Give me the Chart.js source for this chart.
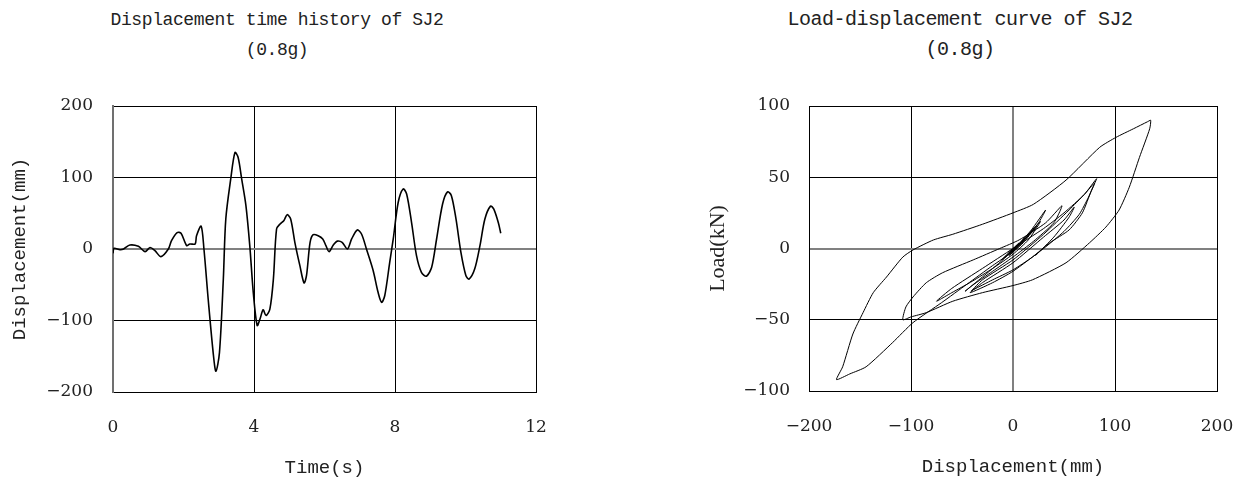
<!DOCTYPE html>
<html>
<head>
<meta charset="utf-8">
<script src="https://cdn.jsdelivr.net/npm/chart.js@4/dist/chart.umd.min.js"></script>
<style>
  html, body { margin: 0; padding: 0; background: #fff; }
  body { width: 1246px; height: 481px; position: relative; overflow: hidden; }
  .ttl { position: absolute; top: 5px; width: 500px; text-align: center; line-height: 30px;
         font-family: 'Liberation Mono', monospace; color: #222; white-space: pre; }
  canvas { position: absolute; top: 0; }
</style>
</head>
<body>
<div class="ttl" id="t1" style="left:27px; font-size:18px; letter-spacing:-0.4px;">Displacement time history of SJ2<br>(0.8g)</div>
<div class="ttl" id="t2" style="left:710px; font-size:20px; letter-spacing:-0.5px;">Load-displacement curve of SJ2<br>(0.8g)</div>
<canvas id="c1" width="560" height="481" style="left:0px;"></canvas>
<canvas id="c2" width="626" height="481" style="left:620px;"></canvas>
<script>
// ---- Left chart: displacement time history ----
const timeS = [0, 0.03, 0.2, 0.3, 0.48, 0.72, 0.91, 1.05, 1.19, 1.36, 1.57, 1.66, 1.82, 1.93, 2.09, 2.18, 2.33, 2.37, 2.50,
  2.58, 2.70, 2.85, 2.92, 3.02, 3.13, 3.20, 3.34, 3.46, 3.55, 3.65, 3.77, 3.88, 3.98, 4.09, 4.17, 4.26, 4.34, 4.45,
  4.55, 4.64, 4.74, 4.85, 4.94, 5.04, 5.16, 5.30, 5.42, 5.49, 5.59, 5.68, 5.82, 5.95, 6.04, 6.13, 6.25, 6.36, 6.50,
  6.65, 6.77, 6.93, 7.05, 7.19, 7.38, 7.52, 7.62, 7.71, 7.85, 7.95, 8.09, 8.23, 8.33, 8.47, 8.61, 8.75, 8.89, 9.04,
  9.18, 9.35, 9.49, 9.60, 9.73, 9.87, 10.01, 10.10, 10.26, 10.41, 10.55, 10.71, 10.80, 10.93, 11.0];
const displacementMm = [-6, 1, -1, 0, 5.6, 3.7, -3.7, 2, -2.3, -10.7, 0, 11.7, 23, 22, 4.7, 7, 7, 18.6, 32,
  0, -70, -149, -171, -145, -42, 42, 98, 135, 128, 98, 61, 4.7, -61, -107, -98, -85, -93, -84,
  -42, 28, 35, 40, 48, 42, 9, -23, -47.5, -37, 9, 20, 18.6, 14, 4.7, -3.7, 5.6, 11, 9.3,
  0, 14, 26.6, 21, 0, -30, -60.6, -74.6, -65, -18.6, 14, 65, 84, 77, 37, -9.3, -32.6, -38, -25.6,
  14, 63, 80, 74.6, 42, -4.7, -37, -42, -28, 4.7, 42, 60, 56, 37, 22];
const timeTicks = ['0', '4', '8', '12'];
const dispTicks = ['\u2212200', '\u2212100', '0', '100', '200'];

// ---- Right chart: load-displacement hysteresis ----
const hystDispMm = [0, 3, 6, 2, -4, 2, -3, -11, -5, 0, 12, 23, 22, 5, 7, 18, 32,
  25, 10, 0, -20, -45, -70, -98, -118, -144, -160, -173,
  -167, -157, -147, -137, -124, -108, -98, -78, -59, -30, 0, 20, 52, 85, 101, 118, 132, 135,
  134, 124, 114, 104, 91, 75, 52, 19, 0, -30, -59, -85, -100, -108,
  -105, -98, -85, -69, -39, -13, 6, 32, 48,
  40, 20, 0, -20, -40, -47,
  -30, -10, 10, 20, 10, -4, 5, 11, 3, 0, 10, 27,
  15, 0, -20, -40, -60, -75,
  -60, -30, 0, 30, 50, 70, 82,
  77, 68, 55, 36, 19, 0, -20, -39, -41,
  -30, 0, 30, 55, 70, 80,
  74, 65, 50, 30, 0, -20, -42,
  -30, 0, 30, 50, 60,
  55, 40, 22];
const hystLoadKN = [0, 2, 4, 1, -3, 1, -2, -8, -4, -1, 8, 16, 14, 2, 4, 13, 27,
  18, 5, -2, -12, -25, -38, -52, -66, -83, -88, -92,
  -83, -60, -45, -31, -20, -6, -1, 6, 10, 17, 25, 31, 48, 71, 78, 84, 89, 90,
  84, 64, 43, 27, 15, 4, -10, -22, -26, -31, -37, -45, -48, -50,
  -41, -34, -24, -17, -8, 0, 6, 18, 30,
  18, 5, -6, -16, -26, -30,
  -20, -8, 6, 13, 4, -5, 2, 7, 0, -2, 5, 19,
  6, -4, -14, -23, -31, -37,
  -28, -14, 0, 14, 25, 38, 49,
  41, 25, 13, 4, -6, -15, -22, -29, -30,
  -22, -8, 10, 27, 38, 46,
  36, 24, 12, 0, -16, -24, -31,
  -24, -10, 8, 20, 29,
  22, 8, -5];
const hystXTicks = ['\u2212200', '\u2212100', '0', '100', '200'];
const hystYTicks = ['\u2212100', '\u221250', '0', '50', '100'];

const monoFont = "'Liberation Mono', monospace";
const tickFont = { family: "'DejaVu Serif', serif", size: 17, lineHeight: 1 };

function gridColor(ctx) { return ctx.tick && ctx.tick.value === 0 ? '#808080' : '#000000'; }
function gridWidth(ctx) { return ctx.tick && ctx.tick.value === 0 ? 2 : 1; }

// Left chart
new Chart(document.getElementById('c1'), {
  type: 'scatter',
  data: {
    datasets: [{
      data: timeS.map((t, i) => ({ x: t, y: displacementMm[i] })),
      showLine: true, borderColor: '#000', borderWidth: 1.6, pointRadius: 0, tension: 0.3, fill: false
    }]
  },
  options: {
    responsive: false, animation: false, devicePixelRatio: 1,
    layout: { padding: { top: 106, right: 24, left: 0, bottom: 0 } },
    plugins: { legend: { display: false }, tooltip: { enabled: false } },
    scales: {
      x: {
        type: 'linear', min: 0, max: 12,
        afterFit: s => { s.height = 89; },
        ticks: { stepSize: 4, color: '#222', font: tickFont, padding: 0, maxRotation: 0,
                 callback: (v, i) => timeTicks[i] },
        grid: { color: gridColor, lineWidth: gridWidth, drawTicks: true, tickLength: 27, tickColor: 'rgba(0,0,0,0)' },
        border: { display: true, color: '#000', width: 1 },
        title: { display: true, text: 'Time(s)', color: '#222',
                 font: { family: monoFont, size: 19, lineHeight: 1 }, padding: { top: 0, bottom: 3.5 } }
      },
      y: {
        type: 'linear', min: -200, max: 200,
        afterFit: s => { s.width = 113; },
        ticks: { stepSize: 100, color: '#222', font: tickFont, padding: 20,
                 callback: (v, i) => dispTicks[i] },
        grid: { color: gridColor, lineWidth: gridWidth, drawTicks: false },
        border: { display: true, color: '#707070', width: 2 },
        title: { display: true, text: 'Displacement(mm)', color: '#222',
                 font: { family: monoFont, size: 19, lineHeight: 1 }, padding: { top: 10.5, bottom: 0 } }
      }
    }
  }
});

// Right chart
new Chart(document.getElementById('c2'), {
  type: 'scatter',
  data: {
    datasets: [{
      data: hystDispMm.map((d, i) => ({ x: d, y: hystLoadKN[i] })),
      showLine: true, borderColor: '#000', borderWidth: 1, pointRadius: 0, tension: 0.2, fill: false
    }]
  },
  options: {
    responsive: false, animation: false, devicePixelRatio: 1,
    layout: { padding: { top: 106, right: 29, left: 0, bottom: 0 } },
    plugins: { legend: { display: false }, tooltip: { enabled: false } },
    scales: {
      x: {
        type: 'linear', min: -200, max: 200,
        afterFit: s => { s.height = 90; },
        ticks: { stepSize: 100, color: '#222', font: tickFont, padding: 0, maxRotation: 0,
                 callback: (v, i) => hystXTicks[i] },
        grid: { color: gridColor, lineWidth: gridWidth, drawTicks: true, tickLength: 27, tickColor: 'rgba(0,0,0,0)' },
        border: { display: true, color: '#000', width: 1 },
        title: { display: true, text: 'Displacement(mm)', color: '#222',
                 font: { family: monoFont, size: 19, lineHeight: 1 }, padding: { top: 0, bottom: 4.5 } }
      },
      y: {
        type: 'linear', min: -100, max: 100,
        afterFit: s => { s.width = 189; },
        ticks: { stepSize: 50, color: '#222', font: tickFont, padding: 19,
                 callback: (v, i) => hystYTicks[i] },
        grid: { color: gridColor, lineWidth: gridWidth, drawTicks: false },
        border: { display: true, color: '#000', width: 1 },
        title: { display: true, text: 'Load(kN)', color: '#222',
                 font: { family: "'Liberation Serif', serif", size: 22, lineHeight: 1 }, padding: { top: 87, bottom: 0 } }
      }
    }
  }
});
</script>
</body>
</html>
